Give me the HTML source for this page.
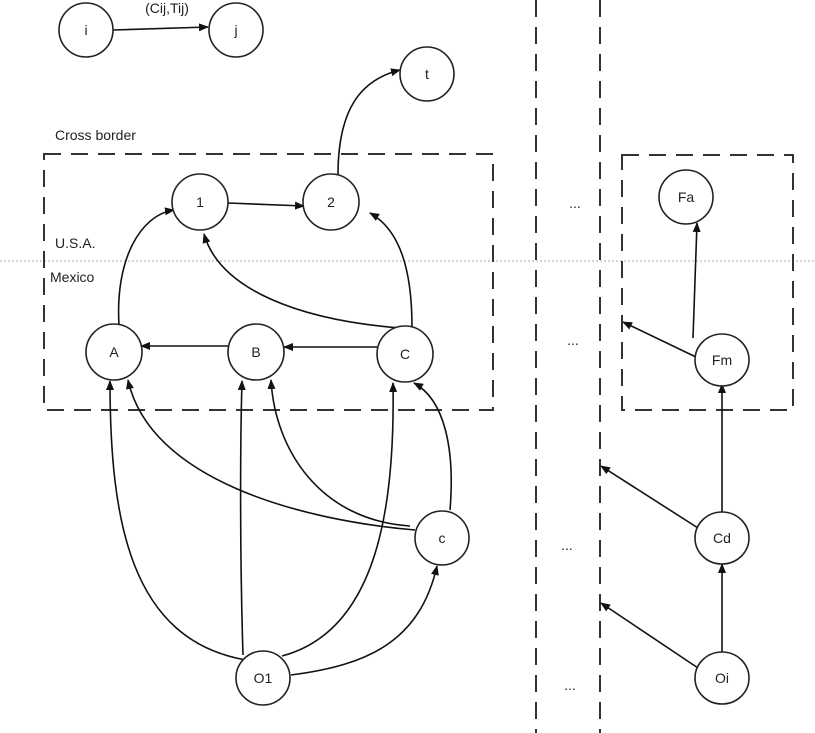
<!DOCTYPE html>
<html><head><meta charset="utf-8"><style>body{margin:0;background:#fff}svg{display:block}text{font-family:"Liberation Sans",sans-serif;font-size:14px;fill:#222}</style></head><body>
<svg width="815" height="733" viewBox="0 0 815 733">
<defs><marker id="a" markerWidth="10" markerHeight="8" refX="9" refY="4" orient="auto" markerUnits="userSpaceOnUse"><path d="M0,0L10,4L0,8z" fill="#111"/></marker></defs>
<line x1="0" y1="261" x2="815" y2="261" stroke="#aaa" stroke-dasharray="2,2"/>
<g fill="none" stroke="#333" stroke-width="2" stroke-dasharray="17,10">
<rect x="44" y="154" width="449" height="256"/>
<rect x="622" y="155" width="171" height="255"/>
<line x1="536" y1="0" x2="536" y2="733"/>
<line x1="600" y1="0" x2="600" y2="733"/>
</g>
<g fill="none" stroke="#111" stroke-width="1.6" marker-end="url(#a)">
<line x1="113" y1="30" x2="208" y2="27"/>
<path d="M338,175 C338,110 360,80 400,70"/>
<line x1="228" y1="203" x2="304" y2="206"/>
<path d="M119,325 C115,260 140,215 174,210"/>
<path d="M412,327 C412,270 400,230 370,213"/>
<path d="M400,328 C300,320 220,290 204,234"/>
<line x1="378" y1="347" x2="284" y2="347"/>
<line x1="229" y1="346" x2="141" y2="346"/>
<path d="M246,660 C130,640 110,520 110,381"/>
<path d="M243,655 C240,560 240,450 242,381"/>
<path d="M282,656 C380,630 395,500 393,383"/>
<path d="M291,675 C370,665 420,640 437,566"/>
<path d="M415,530 C300,520 150,480 128,380"/>
<path d="M410,526 C320,520 275,450 271,380"/>
<path d="M450,510 C455,450 445,400 414,383"/>
<line x1="693" y1="338" x2="697" y2="223"/>
<line x1="698" y1="358" x2="623" y2="322"/>
<line x1="722" y1="512" x2="722" y2="384"/>
<line x1="698" y1="528" x2="601" y2="466"/>
<line x1="722" y1="653" x2="722" y2="564"/>
<line x1="698" y1="668" x2="601" y2="603"/>
</g>
<g fill="#fff" stroke="#222" stroke-width="1.6">
<circle cx="86" cy="30" r="27"/><circle cx="236" cy="30" r="27"/><circle cx="427" cy="74" r="27"/>
<circle cx="200" cy="202" r="28"/><circle cx="331" cy="202" r="28"/>
<circle cx="114" cy="352" r="28"/><circle cx="256" cy="352" r="28"/><circle cx="405" cy="354" r="28"/>
<circle cx="442" cy="538" r="27"/><circle cx="263" cy="678" r="27"/>
<ellipse cx="686" cy="197" rx="27" ry="27"/><ellipse cx="722" cy="360" rx="27" ry="26"/>
<ellipse cx="722" cy="538" rx="27" ry="26"/><ellipse cx="722" cy="678" rx="27" ry="26"/>
</g>
<g text-anchor="middle">
<text x="86" y="35">i</text><text x="236" y="35">j</text><text x="427" y="79">t</text>
<text x="200" y="207">1</text><text x="331" y="207">2</text>
<text x="114" y="357">A</text><text x="256" y="357">B</text><text x="405" y="359">C</text>
<text x="442" y="543">c</text><text x="263" y="683">O1</text>
<text x="686" y="202">Fa</text><text x="722" y="365">Fm</text><text x="722" y="543">Cd</text><text x="722" y="683">Oi</text>
<text x="167" y="13">(Cij,Tij)</text>
<text x="575" y="208">...</text><text x="573" y="345">...</text><text x="567" y="550">...</text><text x="570" y="690">...</text>
</g>
<text x="55" y="140">Cross border</text>
<text x="55" y="248">U.S.A.</text>
<text x="50" y="282">Mexico</text>
</svg>
</body></html>
